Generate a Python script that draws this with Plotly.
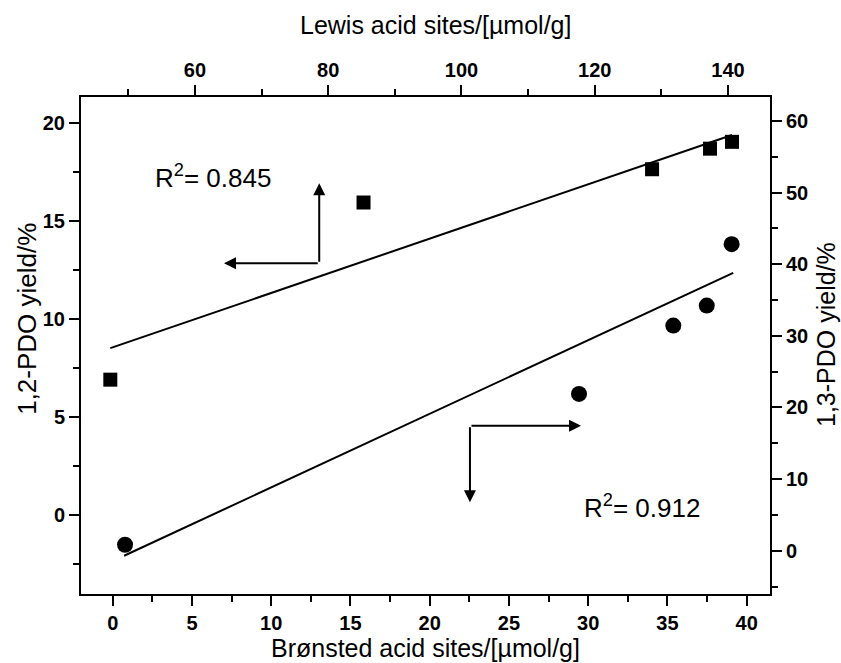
import plotly.graph_objects as go

# ---- data ----
lewis_sites = [47.3, 85.3, 128.6, 137.3, 140.6]          # top axis (µmol/g)
pdo12_yield = [6.9, 15.95, 17.65, 18.7, 19.05]           # left axis (%)
bronsted_sites = [0.78, 29.42, 35.37, 37.48, 39.05]      # bottom axis (µmol/g)
pdo13_yield = [0.84, 21.9, 31.44, 34.23, 42.8]           # right axis (%)

fit12_lewis = [47.3, 140.6]
fit12_yield = [8.51, 19.40]
fit13_bronsted = [0.72, 39.15]
fit13_yield = [-0.7, 38.8]

r2_12 = "0.845"
r2_13 = "0.912"

# arrow geometry in data units (bottom x / left y)
arrow_upper_corner = (13.03, 12.85)
arrow_upper_up_tip = (13.03, 16.94)
arrow_upper_left_tip = (7.02, 12.85)
arrow_lower_corner = (22.54, 4.54)
arrow_lower_right_tip = (29.55, 4.54)
arrow_lower_down_tip = (22.54, 0.64)

FONT = "Arial, Liberation Sans, sans-serif"

fig = go.Figure()

# circles: bottom x (x) vs right y (y)
fig.add_trace(go.Scatter(x=bronsted_sites, y=pdo13_yield, mode="markers",
                         marker=dict(symbol="circle", size=16, color="black"),
                         xaxis="x", yaxis="y", showlegend=False))
fig.add_trace(go.Scatter(x=fit13_bronsted, y=fit13_yield, mode="lines",
                         line=dict(color="black", width=2),
                         xaxis="x", yaxis="y", showlegend=False))
# squares: top x (x2) vs left y (y2)
fig.add_trace(go.Scatter(x=lewis_sites, y=pdo12_yield, mode="markers",
                         marker=dict(symbol="square", size=14, color="black"),
                         xaxis="x2", yaxis="y2", showlegend=False))
fig.add_trace(go.Scatter(x=fit12_lewis, y=fit12_yield, mode="lines",
                         line=dict(color="black", width=2),
                         xaxis="x2", yaxis="y2", showlegend=False))


def axis(**kw):
    d = dict(showline=True, linewidth=2, linecolor="black",
             ticks="outside", ticklen=10, tickwidth=2, tickcolor="black",
             showgrid=False, zeroline=False,
             tickfont=dict(size=20, color="black", family=FONT, weight="bold"))
    minor_dtick = kw.pop("minor_dtick")
    d["minor"] = dict(ticks="outside", ticklen=6, tickwidth=2, tickcolor="black",
                      showgrid=False, dtick=minor_dtick)
    d.update(kw)
    return d


fig.update_layout(
    width=841, height=663,
    margin=dict(l=81, r=71, t=97, b=69),
    paper_bgcolor="white", plot_bgcolor="white",
    font=dict(family=FONT, color="black"),
    xaxis=axis(range=[-2.0, 41.47], tick0=0, dtick=5, minor_dtick=2.5,
               anchor="y", side="bottom"),
    yaxis=axis(range=[-6.04, 63.35], tick0=0, dtick=10, minor_dtick=5,
               anchor="x", side="right"),
    xaxis2=axis(range=[42.9, 146.3], tick0=0, dtick=20, minor_dtick=10,
                overlaying="x", side="top", anchor="y2"),
    yaxis2=axis(range=[-4.05, 21.34], tick0=0, dtick=5, minor_dtick=2.5,
                overlaying="y", side="left", anchor="x2"),
    showlegend=False,
)

annotations = []
# axis titles
annotations.append(dict(text="Brønsted acid sites/[µmol/g]", xref="paper", yref="paper",
                        x=0.5007, y=-0.108, showarrow=False, font=dict(size=25),
                        xanchor="center", yanchor="middle"))
annotations.append(dict(text="Lewis acid sites/[µmol/g]", xref="paper", yref="paper",
                        x=0.5152, y=1.145, showarrow=False, font=dict(size=25),
                        xanchor="center", yanchor="middle"))
annotations.append(dict(text="1,2-PDO yield/%", xref="paper", yref="paper",
                        x=-0.0784, y=0.5536, showarrow=False, font=dict(size=26),
                        textangle=-90, xanchor="center", yanchor="middle"))
annotations.append(dict(text="1,3-PDO yield/%", xref="paper", yref="paper",
                        x=1.0815, y=0.5214, showarrow=False, font=dict(size=25),
                        textangle=-90, xanchor="center", yanchor="middle"))
# R² labels
annotations.append(dict(text="R<sup>2</sup>= " + r2_12, xref="paper", yref="paper",
                        x=0.104, y=0.8397, showarrow=False, font=dict(size=26),
                        xanchor="left", yanchor="middle"))
annotations.append(dict(text="R<sup>2</sup>= " + r2_13, xref="paper", yref="paper",
                        x=0.7275, y=0.176, showarrow=False, font=dict(size=26),
                        xanchor="left", yanchor="middle"))

# arrows (bottom x, left y)
for tip, tail in [(arrow_upper_up_tip, arrow_upper_corner),
                  (arrow_upper_left_tip, arrow_upper_corner),
                  (arrow_lower_right_tip, arrow_lower_corner),
                  (arrow_lower_down_tip, arrow_lower_corner)]:
    annotations.append(dict(x=tip[0], y=tip[1], ax=tail[0], ay=tail[1],
                            xref="x", yref="y2", axref="x", ayref="y2",
                            text="", showarrow=True, arrowhead=2, arrowsize=1.2,
                            arrowwidth=2, arrowcolor="black"))

fig.update_layout(annotations=annotations)

fig.write_html("out.html", config=dict(displayModeBar=False),
               post_script="document.body.style.margin='0px';")
